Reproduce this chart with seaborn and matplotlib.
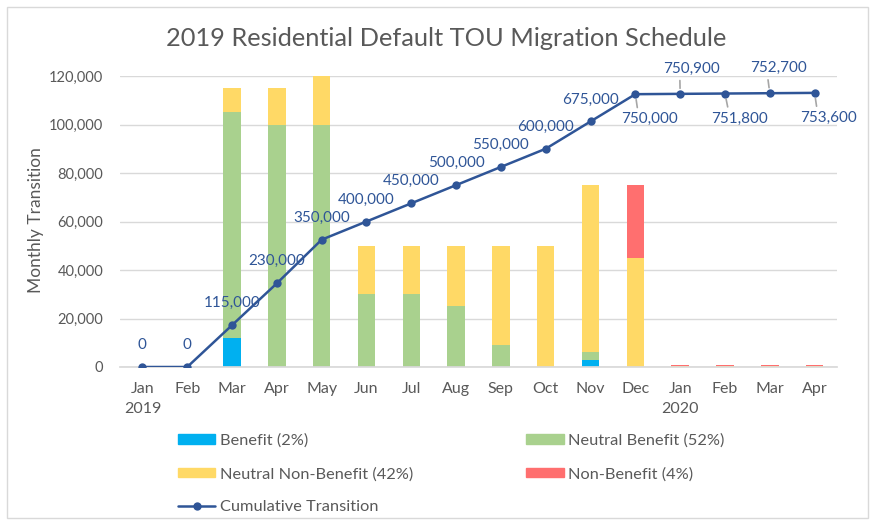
import numpy as np
import pandas as pd
import matplotlib
matplotlib.use("Agg")
import matplotlib.pyplot as plt
import seaborn as sns
from matplotlib.patches import Patch, Rectangle
from matplotlib.lines import Line2D

# ---------------- data ----------------
months = ["Jan 2019", "Feb 2019", "Mar 2019", "Apr 2019", "May 2019", "Jun 2019",
          "Jul 2019", "Aug 2019", "Sep 2019", "Oct 2019", "Nov 2019", "Dec 2019",
          "Jan 2020", "Feb 2020", "Mar 2020", "Apr 2020"]
tick_labels = ["Jan\n2019", "Feb", "Mar", "Apr", "May", "Jun", "Jul", "Aug", "Sep",
               "Oct", "Nov", "Dec", "Jan\n2020", "Feb", "Mar", "Apr"]
benefit = [0, 0, 12000, 0, 0, 0, 0, 0, 0, 0, 3000, 0, 0, 0, 0, 0]
neutral_benefit = [0, 0, 93000, 100000, 100000, 30000, 30000, 25000, 9000, 0, 3000, 0,
                   0, 0, 0, 0]
neutral_non_benefit = [0, 0, 10000, 15000, 20000, 20000, 20000, 25000, 41000, 50000,
                       69000, 45000, 500, 500, 500, 500]
non_benefit = [0, 0, 0, 0, 0, 0, 0, 0, 0, 0, 0, 30000, 400, 400, 400, 400]
cumulative = [0, 0, 115000, 230000, 350000, 400000, 450000, 500000, 550000, 600000,
              675000, 750000, 750900, 751800, 752700, 753600]
series_names = ["Benefit (2%)", "Neutral Benefit (52%)", "Neutral Non-Benefit (42%)",
                "Non-Benefit (4%)"]
line_name = "Cumulative Transition"
title = "2019 Residential Default TOU Migration Schedule"
ylabel = "Monthly Transition"

# ---------------- style ----------------
sns.set_theme(style="white")
plt.rcParams['font.family'] = ['Lato', 'DejaVu Sans']
colors = ["#00B0F0", "#A9D18E", "#FFD966", "#FF6F6F"]
line_color = "#2F5597"
text_gray = "#595959"
grid_gray = "#D9D9D9"

fig = plt.figure(figsize=(8.75, 5.25), dpi=100)
ax = fig.add_axes([120 / 875, 1 - 367 / 525, 717 / 875, 291 / 525])

df = pd.DataFrame({"month": months, "b": benefit, "nb": neutral_benefit,
                   "nnb": neutral_non_benefit, "non": non_benefit})
df["l1"] = df["b"]
df["l2"] = df["l1"] + df["nb"]
df["l3"] = df["l2"] + df["nnb"]
df["l4"] = df["l3"] + df["non"]

for col, c in zip(["l4", "l3", "l2", "l1"], colors[::-1]):
    sns.barplot(data=df, x="month", y=col, order=months, color=c, saturation=1,
                width=0.39, linewidth=0, ax=ax)

ax.set_ylim(0, 120000)
ax.set_yticks(np.arange(0, 120001, 20000))
ax.set_yticklabels([f"{v:,}" for v in range(0, 120001, 20000)])
ax.set_xticks(range(len(months)))
ax.set_xticklabels(tick_labels)
ax.set_xlabel("")
ax.set_ylabel(ylabel, fontsize=12.5, color=text_gray)
ax.yaxis.set_label_coords(-0.106, 0.505)
ax.yaxis.grid(True, color=grid_gray, lw=1)
ax.set_axisbelow(True)
for s in ["top", "right", "left"]:
    ax.spines[s].set_visible(False)
ax.spines["bottom"].set_color(grid_gray)
ax.tick_params(axis="y", length=0, pad=12, labelsize=10.5, labelcolor=text_gray)
ax.tick_params(axis="x", length=0, pad=11, labelsize=11.5, labelcolor=text_gray)
for t in ax.get_xticklabels():
    t.set_linespacing(1.5)

# secondary axis for cumulative line
ax2 = ax.twinx()
ax2.set_ylim(0, 800000)
xs = np.arange(len(months))
sns.lineplot(x=xs, y=cumulative, ax=ax2, color=line_color, lw=1.8, marker="o",
             markersize=6, markeredgewidth=0)
ax2.set_axis_off()
ax.set_xlim(-0.5, len(months) - 0.5)

# data labels
offsets = [(0, 22)] * 11 + [(14, -25), (11, 25), (15, -25), (9, 25), (14, -25)]
for i, (v, (dx, dy)) in enumerate(zip(cumulative, offsets)):
    kw = {}
    if i >= 11:
        kw["arrowprops"] = dict(arrowstyle="-", color="#A6A6A6", lw=1.2,
                                shrinkA=1, shrinkB=4,
                                relpos=(0.3, 1.0) if dy < 0 else (0.3, 0.0))
    ax2.annotate(f"{v:,}", xy=(i, v), xytext=(dx, dy), textcoords="offset pixels",
                 ha="center", va="center", fontsize=11, color=line_color, **kw)

# legend
handles = [Patch(color=colors[0], label=series_names[0]),
           Patch(color=colors[2], label=series_names[2]),
           Line2D([0], [0], color=line_color, lw=1.8, marker="o", markersize=6,
                  markeredgewidth=0, label=line_name),
           Patch(color=colors[1], label=series_names[1]),
           Patch(color=colors[3], label=series_names[3])]
leg = fig.legend(handles=handles, ncol=2, loc="upper left",
                 bbox_to_anchor=(163 / 875, 1 - 419 / 525), frameon=False,
                 fontsize=11.8, handlelength=2.3, handleheight=0.55, handletextpad=0.25,
                 labelspacing=1.15, columnspacing=6.9, labelcolor=text_gray)

# title
fig.text(446 / 875, 1 - 39 / 525, title, ha="center", va="center", fontsize=18.3,
         color=text_gray)

# chart border
fig.patches.append(Rectangle((7 / 875, 7 / 525), 861 / 875, 511 / 525,
                             transform=fig.transFigure, fill=False,
                             edgecolor=grid_gray, lw=1))

fig.savefig("out.png", dpi=100)
